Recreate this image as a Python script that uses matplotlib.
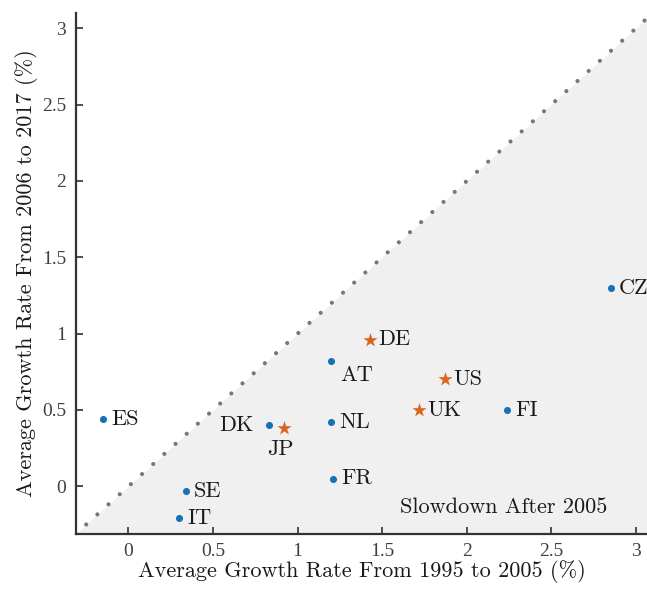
import numpy as np
import matplotlib
matplotlib.use("Agg")
import matplotlib.pyplot as plt

# DATA ---------------------------------------------------------------------------------------------
countries = ['ES', 'SE', 'IT', 'DK', 'AT', 'NL', 'FR', 'FI', 'CZ']
growth_95_05 = [-0.15, 0.34, 0.30, 0.83, 1.20, 1.20, 1.21, 2.24, 2.85]
growth_06_17 = [0.44, -0.03, -0.21, 0.40, 0.82, 0.42, 0.05, 0.50, 1.30]

big_countries = ['JP', 'DE', 'UK', 'US']
big_95_05 = [0.92, 1.43, 1.72, 1.87]
big_06_17 = [0.38, 0.96, 0.50, 0.70]

# label offsets in pixels (dx, dy, ha, va)
label_pos = {
    'DK': (-15, 0, 'right', 'center'),
    'AT': (9, -14, 'left', 'center'),
    'JP': (-4, -21, 'center', 'center'),
}
default_pos = (8, 0, 'left', 'center')

# PLOT ---------------------------------------------------------------------------------------------
plt.rcParams['font.family'] = 'cmr10'
plt.rcParams['axes.formatter.use_mathtext'] = True
plt.rcParams['mathtext.fontset'] = 'cm'

fig = plt.figure(figsize=(6.47, 5.89), dpi=100)
ax = fig.add_axes([0.1175, 0.094, 0.8825, 0.884])

xlo, xhi = -0.31, 3.065
ylo, yhi = -0.31, 3.10
ax.set_xlim(xlo, xhi)
ax.set_ylim(ylo, yhi)

# shaded slowdown area + 45 degree line
diag = np.array([xlo, 3.2])
ax.fill_between(diag, ylo, diag, color='#f0f0f0', lw=0, zorder=0)
ax.plot([-0.25, 3.2], [-0.25, 3.2], color='#777777', lw=3.0,
        linestyle=(0, (0.01, 3.6)), dash_capstyle='round', zorder=1)

ax.scatter(growth_95_05, growth_06_17, s=26, color='#1672B5', zorder=3, linewidths=0)
ax.scatter(big_95_05, big_06_17, s=115, marker='*', color='#D9651F', zorder=3, linewidths=0)

for name, x, y in zip(countries + big_countries, growth_95_05 + big_95_05, growth_06_17 + big_06_17):
    dx, dy, ha, va = label_pos.get(name, default_pos)
    ax.annotate(name, (x, y), xytext=(dx, dy), textcoords='offset pixels',
                ha=ha, va=va, fontsize=16, color='#1a1a1a')

ax.text(2.83, -0.135, 'Slowdown After 2005', ha='right', va='center', fontsize=16, color='#1a1a1a')

ax.set_xticks([0, 0.5, 1, 1.5, 2, 2.5, 3])
ax.set_xticklabels(['0', '0.5', '1', '1.5', '2', '2.5', '3'])
ax.set_yticks([0, 0.5, 1, 1.5, 2, 2.5, 3])
ax.set_yticklabels(['0', '0.5', '1', '1.5', '2', '2.5', '3'])
for lab in ax.get_xticklabels() + ax.get_yticklabels():
    lab.set_fontfamily('Liberation Serif')
ax.tick_params(direction='in', length=5, width=1.3, labelsize=14, colors='#404040', pad=7)

for side in ['top', 'right']:
    ax.spines[side].set_visible(False)
for side in ['left', 'bottom']:
    ax.spines[side].set_linewidth(1.6)
    ax.spines[side].set_color('#333333')

ax.set_xlabel('Average Growth Rate From 1995 to 2005 (%)', fontsize=16, color='#1a1a1a', labelpad=0)
ax.set_ylabel('Average Growth Rate From 2006 to 2017 (%)', fontsize=16, color='#1a1a1a', labelpad=3)

fig.savefig('out.png', dpi=100)
